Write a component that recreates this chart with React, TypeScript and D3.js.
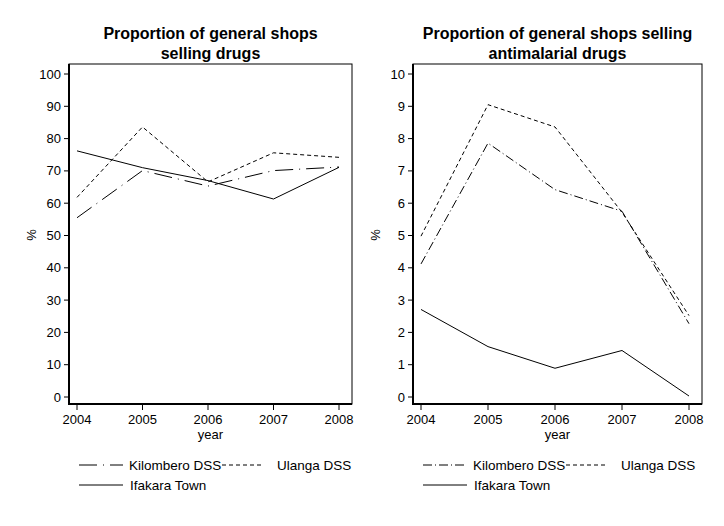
import React from 'react'
import { scaleLinear, line } from 'd3'

const years = [2004, 2005, 2006, 2007, 2008]

// left panel: % of general shops selling drugs
const drugsKilombero = [55.5, 70.1, 65.3, 70.1, 71.2]
const drugsUlanga = [61.8, 83.6, 66.6, 75.6, 74.2]
const drugsIfakara = [76.2, 71.0, 67.0, 61.3, 71.1]
const drugsTicks = [0, 10, 20, 30, 40, 50, 60, 70, 80, 90, 100]

// right panel: % selling antimalarial drugs
const amKilombero = [4.12, 7.86, 6.42, 5.75, 2.27]
const amUlanga = [4.98, 9.05, 8.36, 5.72, 2.52]
const amIfakara = [2.71, 1.56, 0.89, 1.44, 0.03]
const amTicks = [0, 1, 2, 3, 4, 5, 6, 7, 8, 9, 10]

const seriesNames = ['Kilombero DSS', 'Ulanga DSS', 'Ifakara Town']

const font = '"Liberation Sans", Arial, sans-serif'

interface IPanelProps {
    left: number
    right: number
    title: string[]
    ticks: number[]
    yMax: number
    kilombero: number[]
    ulanga: number[]
    ifakara: number[]
    kiloDash: string
}

const Panel = (props: IPanelProps) => {
    const top = 64
    const bottom = 404
    const x = scaleLinear().domain([2004, 2008]).range([props.left + 8, props.right - 13])
    const y = scaleLinear().domain([0, props.yMax]).range([397, 74])

    const path = line<number>()
        .x((_, i) => x(years[i]))
        .y(d => y(d))

    const cx = (props.left + props.right) / 2
    const styles = [
        { data: props.kilombero, dash: props.kiloDash },
        { data: props.ulanga, dash: '4 3' },
        { data: props.ifakara, dash: '' },
    ]

    return (
        <g fontFamily={font}>
            {props.title.map((t, i) => (
                <text key={t} x={cx} y={39 + i * 20} textAnchor="middle" fontWeight="bold" fontSize={16}>{t}</text>
            ))}

            <rect x={props.left} y={top} width={props.right - props.left} height={bottom - top} fill="none" stroke="#000" strokeWidth={1} />
            <line x1={props.left} x2={props.left} y1={top} y2={bottom + 1} stroke="#000" strokeWidth={2} />
            <line x1={props.left - 1} x2={props.right} y1={bottom} y2={bottom} stroke="#000" strokeWidth={2} />

            {props.ticks.map(t => (
                <g key={t}>
                    <line x1={props.left - 5} x2={props.left} y1={y(t)} y2={y(t)} stroke="#000" />
                    <text x={props.left - 8} y={y(t) + 4.5} textAnchor="end" fontSize={13}>{t}</text>
                </g>
            ))}
            {years.map(yr => (
                <g key={yr}>
                    <line x1={x(yr)} x2={x(yr)} y1={bottom} y2={bottom + 6} stroke="#000" />
                    <text x={x(yr)} y={423.5} textAnchor="middle" fontSize={13}>{yr}</text>
                </g>
            ))}
            <text x={cx} y={439} textAnchor="middle" fontSize={13}>year</text>
            <text transform={`translate(${props.left - 33},${235}) rotate(-90)`} textAnchor="middle" fontSize={13}>%</text>

            {styles.map((s, i) => (
                <path key={i} d={path(s.data) || ''} fill="none" stroke="#000" strokeWidth={1} strokeDasharray={s.dash} />
            ))}

            {/* legend */}
            <line x1={props.left + 10} x2={props.left + 54} y1={465} y2={465} stroke="#000" strokeDasharray={styles[0].dash} />
            <text x={props.left + 60} y={469.5} fontSize={13.5}>{seriesNames[0]}</text>
            <line x1={props.left + 153} x2={props.left + 195} y1={465} y2={465} stroke="#000" strokeDasharray={styles[1].dash} />
            <text x={props.left + 208} y={469.5} fontSize={13.5}>{seriesNames[1]}</text>
            <line x1={props.left + 10} x2={props.left + 54} y1={485} y2={485} stroke="#000" />
            <text x={props.left + 61} y={489.5} fontSize={13.5}>{seriesNames[2]}</text>
        </g>
    )
}

const App = () => {
    return (
        <svg width={724} height={526} style={{ position: 'absolute', left: 0, top: 0, background: '#fff' }}>
            <rect width={724} height={526} fill="#fff" />
            <Panel
                left={69}
                right={352}
                title={['Proportion of general shops', 'selling drugs']}
                ticks={drugsTicks}
                yMax={100}
                kilombero={drugsKilombero}
                ulanga={drugsUlanga}
                ifakara={drugsIfakara}
                kiloDash="18 6 1 6"
            />
            <Panel
                left={413}
                right={702}
                title={['Proportion of general shops selling', 'antimalarial drugs']}
                ticks={amTicks}
                yMax={10}
                kilombero={amKilombero}
                ulanga={amUlanga}
                ifakara={amIfakara}
                kiloDash="9 3 1 3"
            />
        </svg>
    )
}

export default App
